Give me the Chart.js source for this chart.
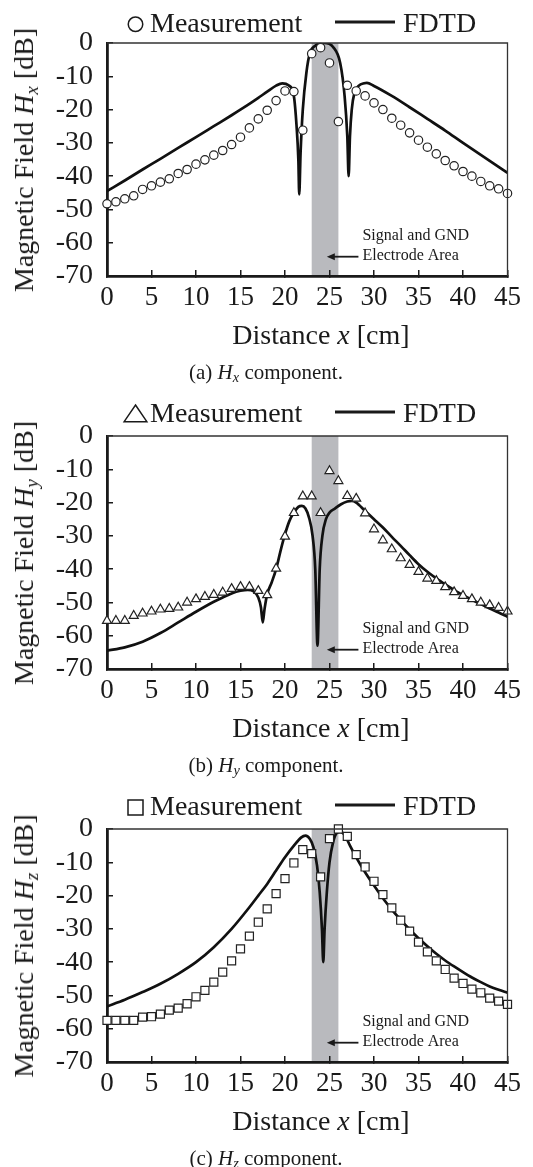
<!DOCTYPE html>
<html>
<head>
<meta charset="utf-8">
<script src="https://cdn.jsdelivr.net/npm/chart.js@4.4.1/dist/chart.umd.min.js"></script>
<style>
  html, body { margin: 0; padding: 0; background: #fff; }
  body { width: 533px; height: 1167px; position: relative; overflow: hidden;
         font-family: "Liberation Serif", "Times New Roman", serif; color: #1a1a1a; }
  .panel { position: absolute; left: 0; width: 533px; height: 393px; }
  .panel canvas { position: absolute; left: 0; top: 0; }
  .ytitle, .xtitle, .caption { position: absolute; white-space: nowrap; line-height: 1; }
  .ytitle { left: 24px; top: 160px; font-size: 28px; transform: translate(-50%, -50%) rotate(-90deg); }
  .xtitle { left: 321px; top: 335px; font-size: 28px; transform: translate(-50%, -50%); }
  .caption { left: 266px; top: 372px; font-size: 21px; transform: translate(-50%, -50%); }
  sub { font-size: 0.68em; font-style: italic; vertical-align: -0.28em; line-height: 0; }
</style>
</head>
<body>

<div class="panel" style="top:0px">
  <canvas id="chart-hx" width="533" height="393"></canvas>
  <div class="ytitle">Magnetic Field <i>H</i><sub>x</sub> [dB]</div>
  <div class="xtitle">Distance <i>x</i> [cm]</div>
  <div class="caption">(a) <i>H</i><sub>x</sub> component.</div>
</div>
<div class="panel" style="top:393px">
  <canvas id="chart-hy" width="533" height="393"></canvas>
  <div class="ytitle">Magnetic Field <i>H</i><sub>y</sub> [dB]</div>
  <div class="xtitle">Distance <i>x</i> [cm]</div>
  <div class="caption">(b) <i>H</i><sub>y</sub> component.</div>
</div>
<div class="panel" style="top:786px">
  <canvas id="chart-hz" width="533" height="393"></canvas>
  <div class="ytitle">Magnetic Field <i>H</i><sub>z</sub> [dB]</div>
  <div class="xtitle">Distance <i>x</i> [cm]</div>
  <div class="caption">(c) <i>H</i><sub>z</sub> component.</div>
</div>

<script>
// axes
const xTickValues = [0, 5, 10, 15, 20, 25, 30, 35, 40, 45];
const yTickValues = [-70, -60, -50, -40, -30, -20, -10, 0];
const bandFrom = 23;   // electrode area [cm]
const bandTo = 26;
const noteLines = ["Signal and GND", "Electrode Area"];

// measurement positions, every 1 cm
const measDistance = [0, 1, 2, 3, 4, 5, 6, 7, 8, 9, 10, 11, 12, 13, 14, 15, 16, 17, 18, 19, 20, 21, 22,
  23, 24, 25, 26, 27, 28, 29, 30, 31, 32, 33, 34, 35, 36, 37, 38, 39, 40, 41, 42, 43, 44, 45];

// (a) Hx
const hxMeas = [-48.3, -47.7, -46.8, -45.9, -44.0, -42.9, -41.8, -40.8, -39.2, -38.0, -36.4, -35.1,
  -33.7, -32.3, -30.5, -28.3, -25.5, -22.8, -20.2, -17.3, -14.4, -14.6, -26.2, -3.2, -1.4, -6.0,
  -23.6, -12.7, -14.4, -15.9, -18.0, -20.0, -22.6, -24.7, -27.0, -29.2, -31.3, -33.3, -35.3,
  -36.9, -38.6, -40.0, -41.6, -42.9, -43.8, -45.2];
const hxFdtdX = [0, 2, 4, 6, 8, 10, 12, 14, 16, 17, 18, 19, 19.7, 20.4, 21, 21.3, 21.5, 21.6, 21.75,
  22, 22.4, 22.8, 23.4, 24, 24.4, 25.4, 26.2, 26.7, 27, 27.15, 27.3, 27.5, 27.8, 28.3, 28.9, 29.2,
  30, 32, 34, 36, 38, 40, 42, 44, 45];
const hxFdtd = [-44.5, -41.3, -38, -34.8, -31.5, -28.3, -25, -21.7, -18.3, -16.5, -14.6, -12.8, -12.1,
  -12.7, -16, -25, -35, -45.5, -33, -20, -9, -3, -0.8, -0.1, 0, -1.2, -6, -16, -28, -40, -28, -20,
  -15, -12.8, -12.1, -12, -12.9, -15.9, -19.3, -22.8, -26.3, -30, -33.6, -37.2, -39];

// (b) Hy
const hyMeas = [-55.5, -55.5, -55.5, -54.0, -53.3, -52.7, -52.1, -51.9, -51.5, -50.0, -49.0, -48.3,
  -47.7, -47.0, -45.9, -45.3, -45.3, -46.5, -47.8, -39.8, -30.2, -23.1, -18.1, -18.1, -23.1, -10.5,
  -13.5, -18.0, -18.8, -23.2, -28.0, -31.3, -34.0, -36.7, -38.7, -40.8, -42.8, -43.5, -45.4, -46.9,
  -48.0, -49.0, -50.0, -50.8, -51.6, -52.7];
const hyFdtdX = [0, 2, 4, 6, 8, 10, 12, 13, 14, 15, 15.8, 16.5, 17, 17.3, 17.5, 17.7, 18, 18.5, 19,
  19.5, 20, 20.5, 21, 21.5, 21.9, 22.3, 22.7, 23.1, 23.4, 23.65, 23.9, 24.2, 24.6, 25, 25.6, 26.3,
  27, 27.5, 28, 29, 30, 31, 32, 33, 34, 35, 36, 37, 38, 39, 40, 41, 42, 43, 44, 45];
const hyFdtd = [-64.5, -63.5, -61.8, -59.2, -56, -52.8, -49.8, -48.5, -47.3, -46.5, -46.2, -46.7,
  -48.5, -51.5, -56, -52, -47.5, -44, -40, -34.5, -29.5, -25.5, -23, -21.3, -21, -21.8, -24.5, -30,
  -40, -63, -40, -30, -25, -23, -21.8, -20.5, -19.7, -19.5, -20, -22.5, -25, -27.5, -30.3, -33,
  -35.8, -38.5, -40.8, -42.8, -44.6, -46.3, -47.8, -49.2, -50.5, -51.8, -53, -54.3];

// (c) Hz
const hzMeas = [-57.5, -57.5, -57.5, -57.5, -56.5, -56.4, -55.6, -54.4, -53.8, -52.5, -50.4, -48.5,
  -46.0, -43.0, -39.6, -36.0, -32.2, -28.0, -24.0, -19.4, -14.9, -10.2, -6.2, -7.4, -14.4, -2.9, 0,
  -2.2, -7.7, -11.4, -15.7, -19.7, -23.7, -27.4, -30.7, -34.0, -36.9, -39.6, -42.2, -44.8, -46.4,
  -48.1, -49.2, -50.8, -51.7, -52.7];
const hzFdtdX = [0, 2, 4, 6, 8, 10, 12, 14, 16, 17, 18, 19, 20, 21, 21.8, 22.3, 22.8, 23.2, 23.6,
  23.9, 24.15, 24.3, 24.45, 24.7, 25, 25.4, 25.8, 26.2, 26.7, 27.3, 28, 29, 30, 31, 32, 33, 34, 35,
  36, 37, 38, 39, 40, 41, 42, 43, 44, 45];
const hzFdtd = [-53.3, -51.3, -49, -46.5, -43.5, -40, -35.5, -30, -23.5, -20, -16.5, -12.5, -8.5, -5,
  -2.6, -2, -3, -5.5, -11, -19, -30, -40, -30, -19, -10, -4, -1.2, -0.8, -1.8, -5, -8.5, -13, -17,
  -20.8, -24.2, -27.3, -30.2, -32.8, -35.2, -37.5, -39.5, -41.3, -43, -44.6, -46, -47.3, -48.3, -49.2];

const FONT = '"Liberation Serif", "Times New Roman", serif';
const INK = "#1a1a1a";

function pairs(xs, ys) {
  return xs.map((x, i) => ({ x: x, y: ys[i] }));
}

function legendMarker(ctx, kind, cx, top, bottom) {
  ctx.beginPath();
  if (kind === "circle") {
    const r = (bottom - top) / 2;
    ctx.arc(cx, (top + bottom) / 2, r, 0, Math.PI * 2);
  } else if (kind === "triangle") {
    const half = (bottom - top) * 0.68;
    ctx.moveTo(cx, top);
    ctx.lineTo(cx + half, bottom);
    ctx.lineTo(cx - half, bottom);
    ctx.closePath();
  } else {
    const s = bottom - top;
    ctx.rect(cx - s / 2, top, s, s);
  }
  ctx.stroke();
}

const panelDecor = {
  id: "panelDecor",
  beforeDraw(chart) {
    const { ctx, chartArea: a, scales: { x } } = chart;
    const x0 = x.getPixelForValue(bandFrom);
    const x1 = x.getPixelForValue(bandTo);
    ctx.save();
    ctx.fillStyle = "#b9babe";
    ctx.fillRect(x0, a.top, x1 - x0, a.bottom - a.top);
    ctx.restore();
  },
  afterDatasetsDraw(chart) {
    const { ctx, chartArea: a, scales: { x, y } } = chart;
    ctx.save();
    // thin top / right frame
    ctx.strokeStyle = "#333";
    ctx.lineWidth = 1.3;
    ctx.beginPath();
    ctx.moveTo(a.left, a.top);
    ctx.lineTo(a.right, a.top);
    ctx.lineTo(a.right, a.bottom);
    ctx.stroke();

    // electrode note with arrow
    ctx.fillStyle = INK;
    ctx.font = "16px " + FONT;
    ctx.textAlign = "left";
    ctx.textBaseline = "middle";
    const tx = x.getPixelForValue(28.7);
    ctx.fillText(noteLines[0], tx, y.getPixelForValue(-58));
    ctx.fillText(noteLines[1], tx, y.getPixelForValue(-64));
    const ay = y.getPixelForValue(-64.2);
    const tip = x.getPixelForValue(24.7);
    const tail = x.getPixelForValue(28.25);
    ctx.strokeStyle = INK;
    ctx.lineWidth = 1.8;
    ctx.beginPath();
    ctx.moveTo(tail, ay);
    ctx.lineTo(tip + 6, ay);
    ctx.stroke();
    ctx.beginPath();
    ctx.moveTo(tip, ay);
    ctx.lineTo(tip + 8, ay - 3.5);
    ctx.lineTo(tip + 8, ay + 3.5);
    ctx.closePath();
    ctx.fill();
    ctx.restore();
  },
  afterDraw(chart, args, opts) {
    const ctx = chart.ctx;
    const base = opts.baseline;
    ctx.save();
    ctx.strokeStyle = INK;
    ctx.fillStyle = INK;
    ctx.lineWidth = 1.5;
    legendMarker(ctx, opts.marker, 135.5, opts.markTop, opts.markBottom);
    ctx.font = "28px " + FONT;
    ctx.textBaseline = "alphabetic";
    ctx.textAlign = "left";
    ctx.fillText("Measurement", 150, base);
    ctx.lineWidth = 3;
    ctx.beginPath();
    ctx.moveTo(335, base - 10);
    ctx.lineTo(395, base - 10);
    ctx.stroke();
    ctx.fillText("FDTD", 403, base);
    ctx.restore();
  }
};

function axisCommon(size) {
  return {
    type: "linear",
    grid: { drawOnChartArea: false, drawTicks: true, tickLength: -6, color: INK, lineWidth: 1.5 },
    border: { color: INK, width: 2.8 },
    ticks: { color: INK, font: { family: FONT, size: size }, autoSkip: false, maxRotation: 0 }
  };
}

function buildChart(id, meas, fdtdX, fdtd, marker, radius, legend) {
  const xAxis = axisCommon(27);
  xAxis.min = 0;
  xAxis.max = 45;
  xAxis.ticks.padding = 12;
  xAxis.afterBuildTicks = (s) => { s.ticks = xTickValues.map((v) => ({ value: v })); };
  xAxis.afterFit = (s) => { s.height = 117; };

  const yAxis = axisCommon(28);
  yAxis.min = -70;
  yAxis.max = 0;
  yAxis.ticks.padding = 20;
  yAxis.afterBuildTicks = (s) => { s.ticks = yTickValues.map((v) => ({ value: v })); };
  yAxis.afterFit = (s) => { s.width = 107; };

  return new Chart(document.getElementById(id), {
    type: "line",
    data: {
      datasets: [
        {
          label: "Measurement",
          data: pairs(measDistance, meas),
          showLine: false,
          pointStyle: marker,
          pointRadius: radius,
          pointBackgroundColor: "#fff",
          pointBorderColor: "#222",
          pointBorderWidth: 1.2,
          clip: false,
          order: 0
        },
        {
          label: "FDTD",
          data: pairs(fdtdX, fdtd),
          borderColor: "#111",
          borderWidth: 2.7,
          pointRadius: 0,
          cubicInterpolationMode: "monotone",
          fill: false,
          order: 1
        }
      ]
    },
    options: {
      responsive: false,
      animation: false,
      events: [],
      layout: { padding: { top: 43, right: 24, left: 0, bottom: 0 } },
      plugins: {
        legend: { display: false },
        tooltip: { enabled: false },
        panelDecor: legend
      },
      scales: { x: xAxis, y: yAxis }
    },
    plugins: [panelDecor]
  });
}

buildChart("chart-hx", hxMeas, hxFdtdX, hxFdtd, "circle", 4.2,
  { marker: "circle", markTop: 17, markBottom: 31.5, baseline: 32 });
buildChart("chart-hy", hyMeas, hyFdtdX, hyFdtd, "triangle", 5.2,
  { marker: "triangle", markTop: 12, markBottom: 28.7, baseline: 29 });
buildChart("chart-hz", hzMeas, hzFdtdX, hzFdtd, "rect", 5.7,
  { marker: "rect", markTop: 14, markBottom: 29, baseline: 29 });
</script>
</body>
</html>
